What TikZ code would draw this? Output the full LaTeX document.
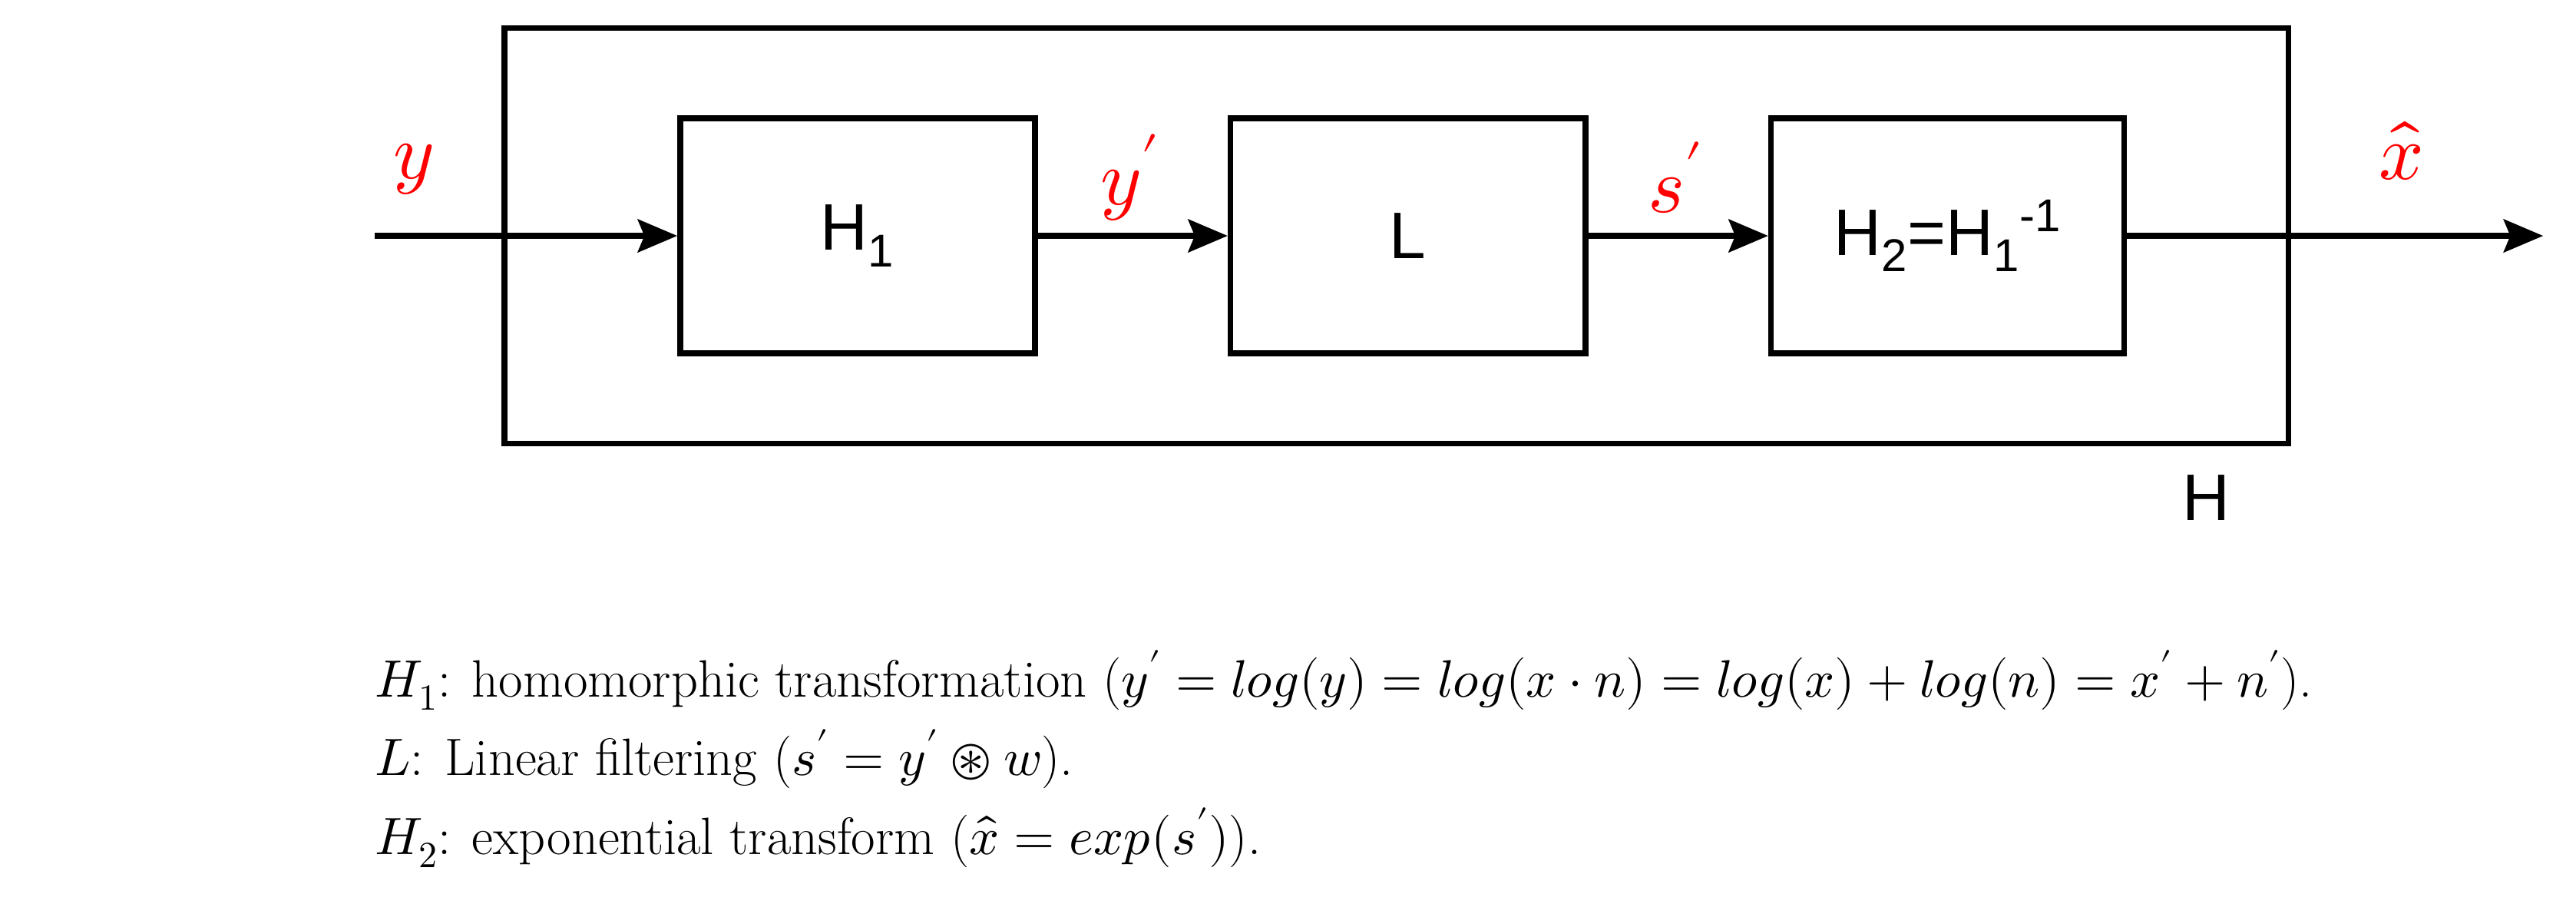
\documentclass[tikz,border=0pt]{standalone}
\usepackage{fontspec}
\usepackage{unicode-math}
\newfontfamily\arialf{Liberation Sans}
\usetikzlibrary{arrows.meta}
\begin{document}
\begin{tikzpicture}[x=1pt,y=-1pt,
  blk/.style={draw,line width=3.5pt,inner sep=0pt},
  arr/.style={line width=3.5pt,-{Stealth[length=24pt,width=20pt,inset=4pt]}},
  lab/.style={text=red,font=\fontsize{48}{50}\selectfont},
  btxt/.style={font=\arialf\fontsize{40}{44}\selectfont}]
\useasboundingbox (0,0) rectangle (1568,550);
\draw[blk] (307,17) rectangle (1393,270);
\node[blk,minimum width=216pt,minimum height=143pt,btxt] (h1) at (522,143.5) {H\textsubscript{1}};
\node[blk,minimum width=216pt,minimum height=143pt,btxt] (l) at (857,143.5) {L};
\node[blk,minimum width=215pt,minimum height=143pt,btxt] (h2) at (1185.5,143.5) {H\textsubscript{2}=H\textsubscript{1}\textsuperscript{-1}};
\coordinate (in) at (228,143.5);
\coordinate (out) at (1548,143.5);
\draw[arr] (in) -- (h1);
\draw[arr] (h1) -- (l);
\draw[arr] (l) -- (h2);
\draw[arr] (h2) -- (out);
\node[lab] at (252,103) {$y$};
\node[lab] at (688,108) {$y'$};
\node[lab] at (1020,108) {$s'$};
\node[lab] at (1462,92) {$\hat{x}$};
\node[btxt] at (1343,303) {H};
\begin{scope}[every node/.style={anchor=base west,inner sep=0pt,font=\fontsize{32}{36}\selectfont}]
\node at (228,424) {$H_1$: homomorphic transformation ($y'=log(y)=log(x\cdot n)=log(x)+log(n)=x'+n'$).};
\node at (228,472) {$L$: Linear filtering ($s'=y'\circledast w$).};
\node at (228,520) {$H_2$: exponential transform ($\hat{x}=exp(s')$).};
\end{scope}
\end{tikzpicture}
\end{document}
